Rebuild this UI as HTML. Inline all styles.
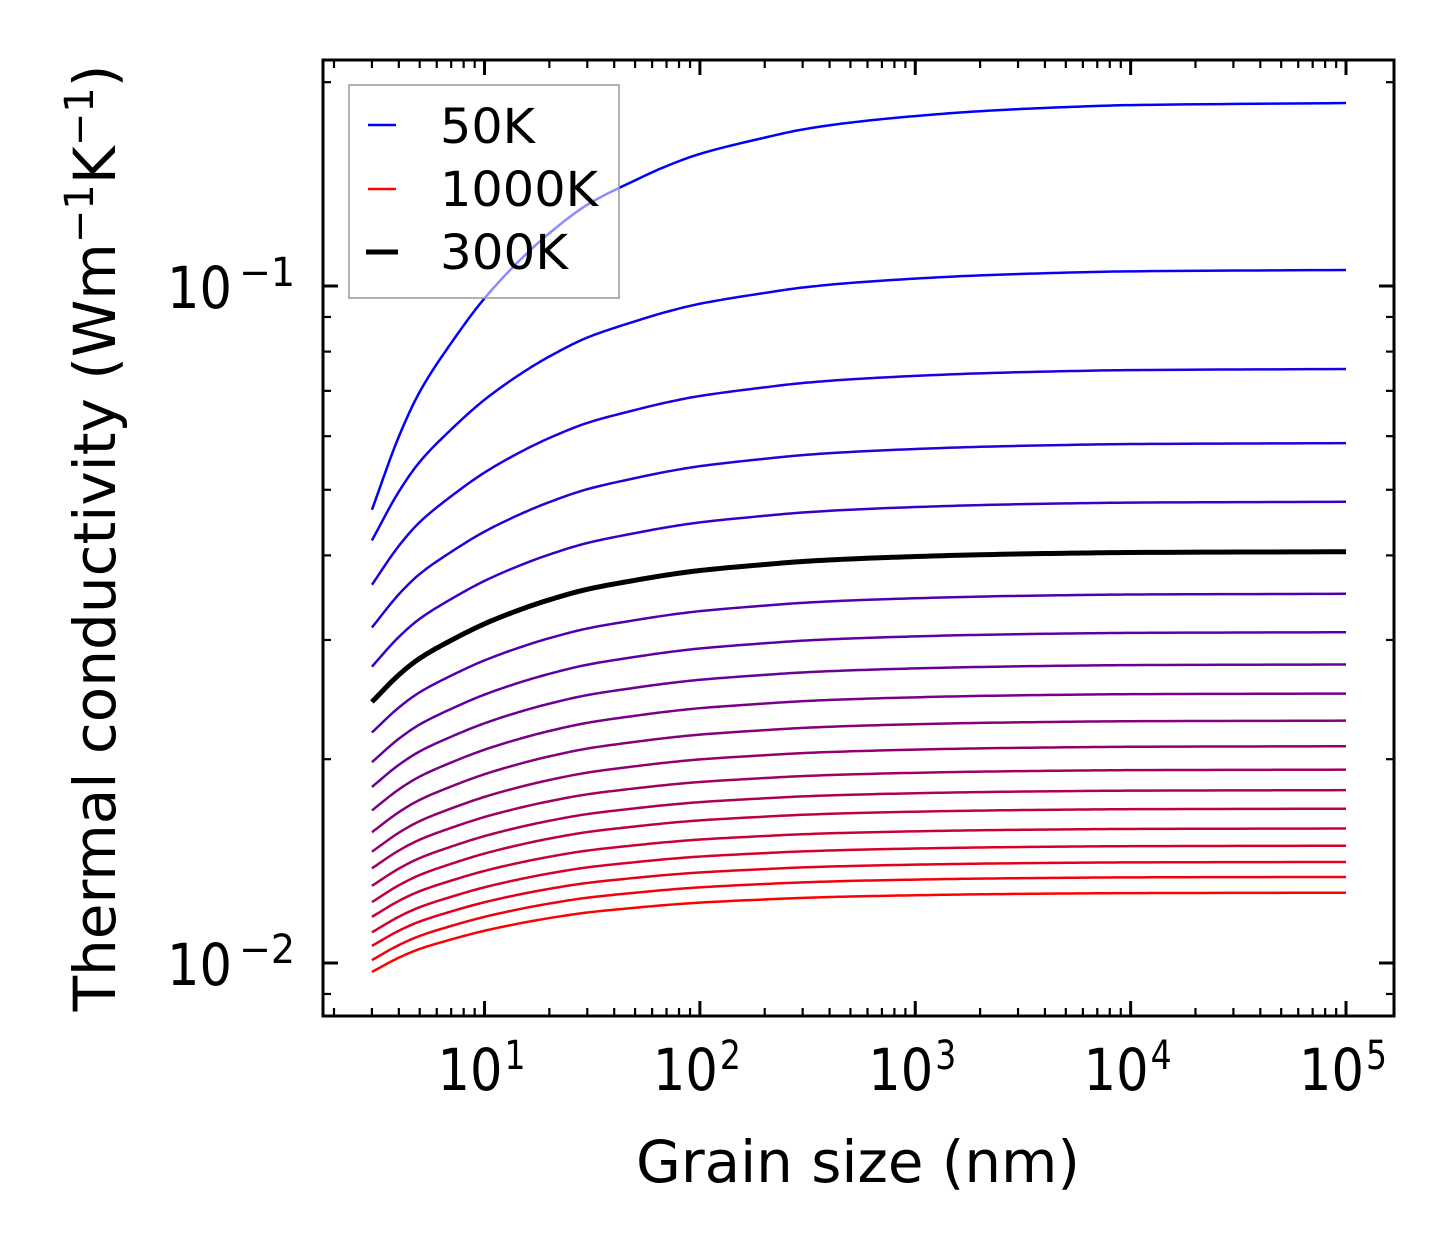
<!DOCTYPE html>
<html><head><meta charset="utf-8"><style>
body{margin:0;background:#fff}
svg{display:block;font-family:"DejaVu Sans","Liberation Sans",sans-serif}
</style></head><body>
<svg id="chart" width="1454" height="1254" viewBox="0 0 1454 1254" xmlns="http://www.w3.org/2000/svg">
<g id="curves"></g>
<g id="ticks"></g>
<rect x="323" y="60" width="1071" height="956" fill="none" stroke="#000" stroke-width="3"/>
<g>
<rect x="349" y="85" width="270" height="213" fill="#fff" fill-opacity="0.55" stroke="#999" stroke-width="1.5"/>
<line x1="368" y1="125" x2="396" y2="125" stroke="#0000ff" stroke-width="2.5"/>
<text x="440" y="143" font-size="48" textLength="95" lengthAdjust="spacingAndGlyphs">50K</text>
<line x1="368" y1="189" x2="396" y2="189" stroke="#ff0000" stroke-width="2.5"/>
<text x="440" y="206" font-size="48" textLength="158" lengthAdjust="spacingAndGlyphs">1000K</text>
<line x1="366" y1="252" x2="398" y2="252" stroke="#000" stroke-width="5"/>
<text x="440" y="269" font-size="48" textLength="128" lengthAdjust="spacingAndGlyphs">300K</text>
</g>
<text x="636" y="1182" font-size="58" textLength="444" lengthAdjust="spacingAndGlyphs">Grain size (nm)</text>
<text transform="translate(115,538) rotate(-90)" font-size="58" text-anchor="middle">Thermal conductivity (Wm<tspan font-size="40" dy="-22">−1</tspan><tspan dy="22">K</tspan><tspan font-size="40" dy="-22">−1</tspan><tspan dy="22">)</tspan></text>
</svg>
<script>
const temperatures=[50,100,150,200,250,300,350,400,450,500,550,600,650,700,750,800,850,900,950,1000];
const kPlateau=[0.1863,0.1056,0.0754,0.0586,0.0480,0.0405,0.0351,0.0308,0.0276,0.0250,0.0228,0.0209,0.0193,0.0180,0.0169,0.0158,0.0149,0.0141,0.0134,0.0127];
const kAt3nm=[0.0467,0.0421,0.0362,0.0313,0.0274,0.0243,0.0219,0.0198,0.0182,0.0168,0.0156,0.0146,0.0138,0.0130,0.0123,0.0117,0.0111,0.0106,0.0101,0.0097];
const grainSizes=[3,4,5,7,10,15,20,30,50,70,100,200,300,500,1000,2000,5000,10000,100000];
const remainingFraction=[1,0.82,0.71,0.59,0.48,0.38,0.32,0.25,0.19,0.155,0.125,0.085,0.065,0.048,0.032,0.02,0.01,0.005,0];
const highlightTemp=300;
const xTickExps=[1,2,3,4,5];
const yTickExps=[-1,-2];

const NS="http://www.w3.org/2000/svg";
const X0=323,X1=1394,Y0=60,Y1=1016;
const xLogMin=0.25,xLogMax=5.2228,yLogMin=-2.0783,yLogMax=-0.6662;
const xs=v=>X0+(Math.log10(v)-xLogMin)/(xLogMax-xLogMin)*(X1-X0);
const ys=v=>Y1-(Math.log10(v)-yLogMin)/(yLogMax-yLogMin)*(Y1-Y0);

function curvePath(i){
  const lx=grainSizes.map(g=>Math.log10(g));
  const ly=grainSizes.map((g,j)=>Math.log10(kPlateau[i])+remainingFraction[j]*(Math.log10(kAt3nm[i])-Math.log10(kPlateau[i])));
  const n=lx.length,m=[];
  const d=[];for(let j=0;j<n-1;j++)d.push((ly[j+1]-ly[j])/(lx[j+1]-lx[j]));
  m[0]=d[0];m[n-1]=d[n-2];
  for(let j=1;j<n-1;j++)m[j]=d[j-1]*d[j]<=0?0:2/(1/d[j-1]+1/d[j]);
  let p="";
  for(let j=0;j<n-1;j++){
    const h=lx[j+1]-lx[j];
    for(let s=0;s<=12;s++){
      if(j>0&&s==0)continue;
      const t=s/12,t2=t*t,t3=t2*t;
      const y=(2*t3-3*t2+1)*ly[j]+(t3-2*t2+t)*h*m[j]+(-2*t3+3*t2)*ly[j+1]+(t3-t2)*h*m[j+1];
      const X=xs(Math.pow(10,lx[j]+t*h)),Y=ys(Math.pow(10,y));
      p+=(p?"L":"M")+X.toFixed(2)+","+Y.toFixed(2);
    }
  }
  return p;
}
const cg=document.getElementById("curves");
temperatures.forEach((T,i)=>{
  const f=i/(temperatures.length-1);
  const el=document.createElementNS(NS,"path");
  
  
  el.setAttribute("d",curvePath(i));
  el.setAttribute("fill","none");
  el.setAttribute("stroke","rgb("+Math.round(255*f)+",0,"+Math.round(255*(1-f))+")");
  el.setAttribute("stroke-width","2.5");
  cg.appendChild(el);
});
{
  const i=temperatures.indexOf(highlightTemp);
  const el=document.createElementNS(NS,"path");
  
  
  el.setAttribute("d",curvePath(i));
  el.setAttribute("fill","none");
  el.setAttribute("stroke","#000");
  el.setAttribute("stroke-width","5");
  cg.appendChild(el);
}
const tg=document.getElementById("ticks");
function line(x1,y1,x2,y2,w){
  const l=document.createElementNS(NS,"line");
  
  
  l.setAttribute("x1",x1);l.setAttribute("y1",y1);l.setAttribute("x2",x2);l.setAttribute("y2",y2);
  l.setAttribute("stroke","#000");l.setAttribute("stroke-width",w);tg.appendChild(l);
}
for(let e=0;e<=5;e++)for(let k=1;k<=9;k++){
  const v=k*Math.pow(10,e);const x=xs(v);
  if(x<X0+1||x>X1-1)continue;
  const L=k==1?15:8,w=k==1?3:2.2;
  line(x,Y1,x,Y1-L,w);line(x,Y0,x,Y0+L,w);
}
for(let e=-3;e<=0;e++)for(let k=1;k<=9;k++){
  const v=k*Math.pow(10,e);const y=ys(v);
  if(y<Y0+1||y>Y1-1)continue;
  const L=k==1?15:8,w=k==1?3:2.2;
  line(X0,y,X0+L,y,w);line(X1,y,X1-L,y,w);
}
function txt(name,x,y,size,s,anchor,len){
  const t=document.createElementNS(NS,"text");
  
  
  t.setAttribute("x",x);t.setAttribute("y",y);t.setAttribute("font-size",size);
  if(anchor)t.setAttribute("text-anchor",anchor);
  if(len){t.setAttribute("textLength",len);t.setAttribute("lengthAdjust","spacingAndGlyphs");}
  t.textContent=s;tg.appendChild(t);
}
xTickExps.forEach(e=>{
  const x=xs(Math.pow(10,e));
  txt('x-tick-label',x-47,1090,58,'10',null,65);
  txt('x-tick-exponent',x+20,1069,40,String(e),null,21);
});
yTickExps.forEach(e=>{
  const y=ys(Math.pow(10,e));
  txt('y-tick-label',167,y+22,58,'10',null,65);
  txt('y-tick-exponent',239,y,40,'−'+(-e),null,56);
});
</script>
</body></html>
